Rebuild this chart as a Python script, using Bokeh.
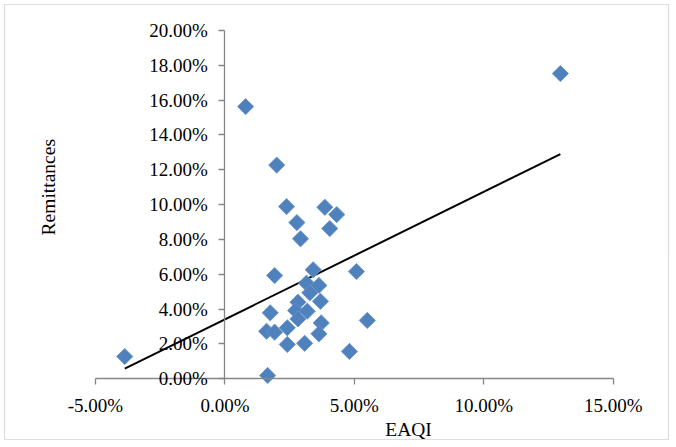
import numpy as np
from bokeh.plotting import figure
from bokeh.models import (Range1d, FixedTicker, NumeralTickFormatter, Label,
                          ColumnDataSource, BoxAnnotation, LinearAxis)
from bokeh.embed import file_html
from bokeh.resources import INLINE

# EAQI (x) and Remittances (y), as fractions
eaqi = [-0.0387, 0.0080, 0.1296, 0.0200, 0.0238, 0.0386, 0.0432, 0.0278,
        0.0405, 0.0292, 0.0341, 0.0508, 0.0192, 0.0315, 0.0363, 0.0328,
        0.0369, 0.0282, 0.0273, 0.0318, 0.0282, 0.0175, 0.0550, 0.0372,
        0.0241, 0.0161, 0.0192, 0.0363, 0.0241, 0.0308, 0.0481, 0.0165]
remittances = [0.0128, 0.1563, 0.1753, 0.1227, 0.0989, 0.0985, 0.0943, 0.0897,
               0.0863, 0.0804, 0.0626, 0.0616, 0.0593, 0.0549, 0.0536, 0.0494,
               0.0445, 0.0440, 0.0392, 0.0388, 0.0344, 0.0379, 0.0335, 0.0321,
               0.0293, 0.0273, 0.0268, 0.0258, 0.0197, 0.0204, 0.0157, 0.0019]
x_ticks = [-0.05, 0.0, 0.05, 0.10, 0.15]
y_ticks = [0.0, 0.02, 0.04, 0.06, 0.08, 0.10, 0.12, 0.14, 0.16, 0.18, 0.20]
x_title = "EAQI"
y_title = "Remittances"

FONT = "Liberation Serif"
AXIS_GRAY = "#868686"
W, H = 676, 447

# pixel layout of the axes inside the canvas (frame covers whole canvas)
X0_PX, X15_PX = 95.0, 612.7     # canvas x of -5% and 15%
Y0_PX, Y20_PX = 378.3, 30.0     # canvas y of 0% and 20%
sx = (X15_PX - X0_PX) / (x_ticks[-1] - x_ticks[0])
sy = (Y0_PX - Y20_PX) / (y_ticks[-1] - y_ticks[0])

def px_x(px):
    return x_ticks[0] + (px - X0_PX) / sx

def px_y(py):
    return y_ticks[0] + (Y0_PX - py) / sy

p = figure(width=W, height=H, output_backend="svg", toolbar_location=None,
           x_range=Range1d(px_x(0), px_x(W)), y_range=Range1d(px_y(H), px_y(0)),
           x_axis_location=None, y_axis_location=None,
           min_border_left=0, min_border_right=0, min_border_top=0, min_border_bottom=0,
           background_fill_color="white", border_fill_color="white")
p.outline_line_color = None
p.xgrid.visible = False
p.ygrid.visible = False

xaxis = LinearAxis(fixed_location=0, bounds=(x_ticks[0], x_ticks[-1]),
                   ticker=FixedTicker(ticks=x_ticks))
yaxis = LinearAxis(fixed_location=0, bounds=(y_ticks[0], y_ticks[-1]),
                   ticker=FixedTicker(ticks=y_ticks))
for ax in (xaxis, yaxis):
    ax.axis_line_color = AXIS_GRAY
    ax.axis_line_width = 1.3
    ax.major_tick_line_color = AXIS_GRAY
    ax.major_tick_line_width = 1.3
    ax.major_tick_in = 0
    ax.major_tick_out = 6
    ax.minor_tick_line_color = None
    ax.major_label_text_font = FONT
    ax.major_label_text_font_size = "19px"
    ax.major_label_text_color = "black"
    ax.formatter = NumeralTickFormatter(format="0.00%")
xaxis.major_label_standoff = 10
yaxis.major_label_standoff = 11
p.add_layout(xaxis, "below")
p.add_layout(yaxis, "left")

src = ColumnDataSource(dict(x=eaqi, y=remittances))

# linear trend line (least squares), drawn across the data range
slope, intercept = np.polyfit(eaqi, remittances, 1)
xs = np.array([min(eaqi), max(eaqi)])
p.line(xs, slope * xs + intercept, line_color="black", line_width=2)

p.scatter("x", "y", source=src, marker="square", angle=np.pi / 4, size=11.5,
          fill_color="#4F81BD", line_color="#6a93c8", line_width=0.8)

# outer chart border
p.add_layout(BoxAnnotation(left=px_x(4), right=px_x(668), top=px_y(4), bottom=px_y(439),
                           fill_alpha=0, line_color="#8f8f8f", line_width=1.2))

p.add_layout(Label(x=px_x(408), y=px_y(429), text=x_title, text_font=FONT,
                   text_font_size="19.5px", text_align="center",
                   text_baseline="middle", text_color="black"))
p.add_layout(Label(x=px_x(47.5), y=px_y(186.7), text=y_title, text_font=FONT,
                   text_font_size="19.5px", text_align="center",
                   text_baseline="middle", angle=np.pi / 2, text_color="black"))

open("out.html", "w").write(file_html(p, INLINE))
